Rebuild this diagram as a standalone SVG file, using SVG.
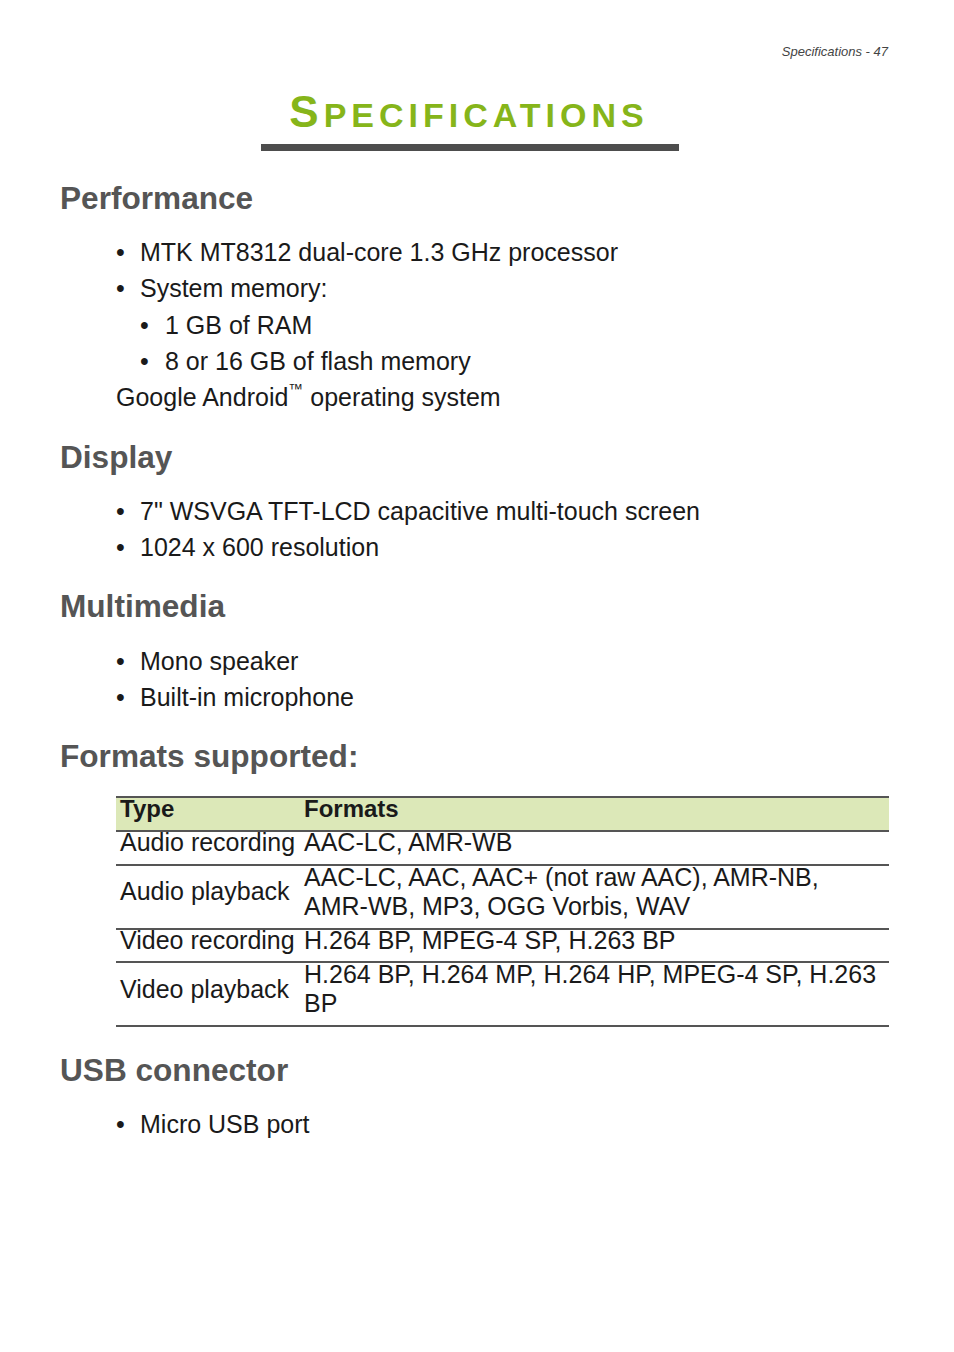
<svg xmlns="http://www.w3.org/2000/svg" width="954" height="1352" viewBox="0 0 954 1352">
<style>
text{font-family:"Liberation Sans",Arial,sans-serif;fill:#1a1a1a}
.b{font-size:25px}
.h{font-size:31.6px;font-weight:bold;fill:#555}
.t{font-size:24px;font-weight:bold}
.ln{stroke:#555;stroke-width:2}
</style>
<rect width="954" height="1352" fill="#fff"/>
<text x="888" y="56" text-anchor="end" font-size="13" font-style="italic" style="fill:#444">Specifications - 47</text>
<text x="469" y="127" text-anchor="middle" font-weight="bold" style="fill:#86b51a;letter-spacing:5px"><tspan font-size="44">S</tspan><tspan font-size="34">PECIFICATIONS</tspan></text>
<rect x="261" y="144" width="418" height="7" fill="#4d4d4d"/>
<text class="h" x="60" y="209">Performance</text>
<text class="b" x="116" y="261">•</text><text class="b" x="140" y="261">MTK MT8312 dual-core 1.3 GHz processor</text>
<text class="b" x="116" y="297">•</text><text class="b" x="140" y="297">System memory:</text>
<text class="b" x="140" y="334">•</text><text class="b" x="165" y="334">1 GB of RAM</text>
<text class="b" x="140" y="370">•</text><text class="b" x="165" y="370">8 or 16 GB of flash memory</text>
<text class="b" x="116" y="406">Google Android<tspan font-size="15" dy="-12">™</tspan><tspan dy="12"> operating system</tspan></text>
<text class="h" x="60" y="468">Display</text>
<text class="b" x="116" y="520">•</text><text class="b" x="140" y="520">7" WSVGA TFT-LCD capacitive multi-touch screen</text>
<text class="b" x="116" y="556">•</text><text class="b" x="140" y="556">1024 x 600 resolution</text>
<text class="h" x="60" y="617">Multimedia</text>
<text class="b" x="116" y="670">•</text><text class="b" x="140" y="670">Mono speaker</text>
<text class="b" x="116" y="706">•</text><text class="b" x="140" y="706">Built-in microphone</text>
<text class="h" x="60" y="767">Formats supported:</text>
<rect x="116" y="797" width="773" height="34" fill="#dce8b8"/>
<line class="ln" x1="116" y1="797" x2="889" y2="797"/>
<line class="ln" x1="116" y1="831" x2="889" y2="831"/>
<line class="ln" x1="116" y1="865" x2="889" y2="865"/>
<line class="ln" x1="116" y1="929" x2="889" y2="929"/>
<line class="ln" x1="116" y1="962" x2="889" y2="962"/>
<line class="ln" x1="116" y1="1026" x2="889" y2="1026"/>
<text class="t" x="120" y="817">Type</text><text class="t" x="304" y="817">Formats</text>
<text class="b" x="120" y="851">Audio recording</text><text class="b" x="304" y="851">AAC-LC, AMR-WB</text>
<text class="b" x="120" y="900">Audio playback</text><text class="b" x="304" y="886">AAC-LC, AAC, AAC+ (not raw AAC), AMR-NB,</text><text class="b" x="304" y="915">AMR-WB, MP3, OGG Vorbis, WAV</text>
<text class="b" x="120" y="949">Video recording</text><text class="b" x="304" y="949">H.264 BP, MPEG-4 SP, H.263 BP</text>
<text class="b" x="120" y="998">Video playback</text><text class="b" x="304" y="983">H.264 BP, H.264 MP, H.264 HP, MPEG-4 SP, H.263</text><text class="b" x="304" y="1012">BP</text>
<text class="h" x="60" y="1081">USB connector</text>
<text class="b" x="116" y="1133">•</text><text class="b" x="140" y="1133">Micro USB port</text>
</svg>
